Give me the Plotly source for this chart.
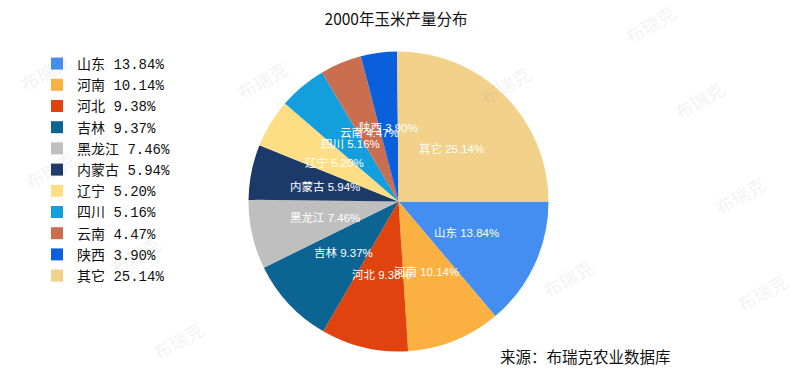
import math
import plotly.graph_objects as go

# ---- data ----
provinces = ["山东", "河南", "河北", "吉林", "黑龙江", "内蒙古", "辽宁", "四川", "云南", "陕西", "其它"]
shares = [13.84, 10.14, 9.38, 9.37, 7.46, 5.94, 5.20, 5.16, 4.47, 3.90, 25.14]
slice_colors = ["#448ef2", "#fab141", "#e0430d", "#0b6491", "#bfbfbf", "#1c3a69",
                "#fede85", "#139edd", "#c96e4e", "#0a5fdc", "#f2d18b"]
title_text = "2000年玉米产量分布"
source_text = "来源：布瑞克农业数据库"
watermark_text = "布瑞克"

W, H = 795, 372
labels = [f"{p} {v:.2f}%" for p, v in zip(provinces, shares)]

# pie placement (pixels)
cx, cy, R = 398.5, 201.5, 150
dom_x = [(cx - R) / W, (cx + R) / W]
dom_y = [(H - cy - R) / H, (H - cy + R) / H]

fig = go.Figure()
fig.add_trace(go.Pie(
    labels=labels, values=shares, sort=False, direction="clockwise", rotation=90,
    marker=dict(colors=slice_colors, line=dict(width=0)),
    textinfo="none", hoverinfo="label", domain=dict(x=dom_x, y=dom_y),
))

# inner labels placed at half radius using hidden axes that span the pie domain
annotations = []
total = sum(shares)
cum = 0.0
for lab, v in zip(labels, shares):
    mid = (cum + v / 2) / total * 2 * math.pi
    cum += v
    annotations.append(dict(
        x=0.5 * math.cos(mid), y=-0.5 * math.sin(mid), xref="x", yref="y",
        text=lab, showarrow=False, xanchor="center", yanchor="middle",
        font=dict(family="Liberation Sans, Noto Sans CJK SC", size=11.5, color="white"),
    ))

# watermarks
wm_pos = [(650, 24), (699, 100), (740, 195), (762, 292), (568, 278), (45, 72),
          (262, 80), (50, 170), (135, 255), (178, 340), (505, 85)]
for (px, py) in wm_pos:
    annotations.append(dict(
        x=px / W, y=1 - py / H, xref="paper", yref="paper", text=watermark_text,
        showarrow=False, textangle=-30, xanchor="center", yanchor="middle",
        font=dict(family="Noto Sans CJK SC", size=18, color="rgba(120,120,120,0.11)"),
    ))

annotations.append(dict(
    x=498 / W, y=1 - 356 / H, xref="paper", yref="paper", text=source_text,
    showarrow=False, xanchor="left", yanchor="middle",
    font=dict(family="Noto Sans CJK SC", size=15.5, color="#111111"),
))

fig.update_layout(
    width=W, height=H, margin=dict(l=0, r=0, t=0, b=0),
    paper_bgcolor="white", plot_bgcolor="rgba(0,0,0,0)",
    title=dict(text=title_text, x=396 / W, y=1 - 20 / H, xanchor="center", yanchor="middle",
               font=dict(family="Noto Sans CJK SC", size=15.5, color="#111111")),
    xaxis=dict(domain=dom_x, range=[-1, 1], visible=False, fixedrange=True),
    yaxis=dict(domain=dom_y, range=[-1, 1], visible=False, fixedrange=True),
    legend=dict(x=37 / W, y=1 - 48 / H, xanchor="left", yanchor="top",
                font=dict(family="Liberation Mono, Noto Sans CJK SC", size=14, color="#111111"),
                bgcolor="rgba(0,0,0,0)", traceorder="normal"),
    annotations=annotations,
    showlegend=True,
)

fig.write_html("out.html", config={"displayModeBar": False},
               post_script="document.body.style.margin='0';document.body.style.overflow='hidden';")
